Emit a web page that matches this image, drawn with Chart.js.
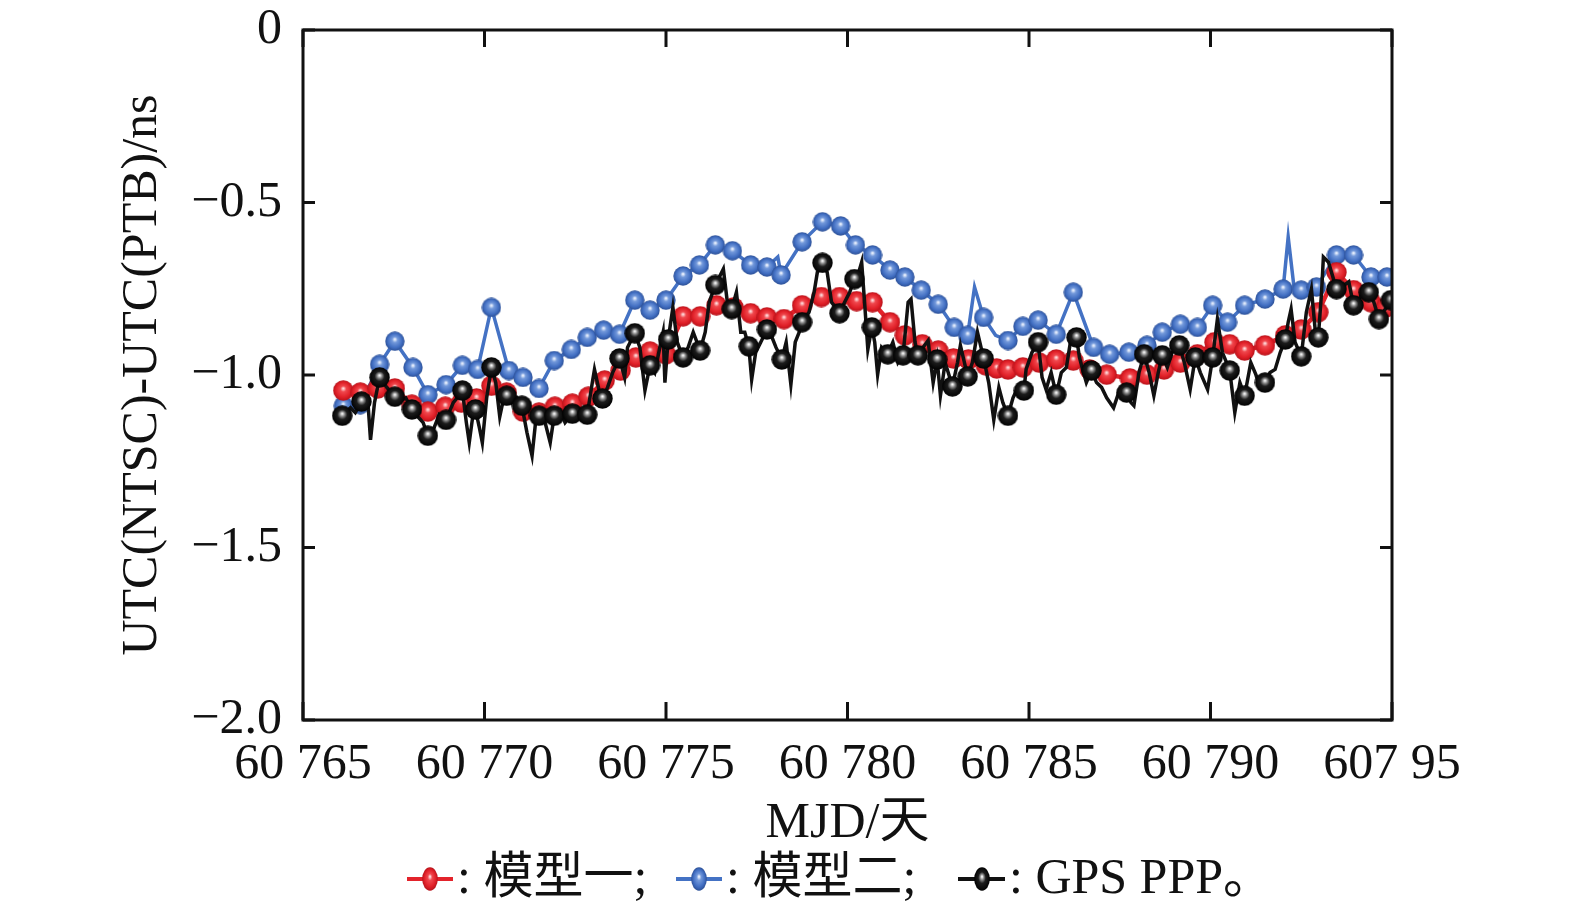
<!DOCTYPE html>
<html>
<head>
<meta charset="utf-8">
<script src="https://cdn.jsdelivr.net/npm/chart.js@4.4.1/dist/chart.umd.min.js"></script>
<style>
  html, body { margin: 0; padding: 0; background: #fff; }
  canvas { display: block; }
</style>
</head>
<body>
<canvas id="chart" width="1575" height="915"></canvas>
<script>
// Tick labels (as printed in the figure)
const xTickLabels = ['60 765', '60 770', '60 775', '60 780', '60 785', '60 790', '607 95'];
const yTickLabels = ['\u22122.0', '\u22121.5', '\u22121.0', '\u22120.5', '0'];

// Model 1 (red)
const redMjd = [
  60766.11, 60766.58, 60767.06, 60767.53, 60768.00, 60768.44, 60768.92, 60769.36, 60769.78, 60770.19,
  60770.61, 60771.06, 60771.50, 60771.94, 60772.42, 60772.86, 60773.31, 60773.75, 60774.17, 60774.56,
  60775.00, 60775.47, 60775.94, 60776.39, 60776.86, 60777.33, 60777.78, 60778.25, 60778.75, 60779.28,
  60779.78, 60780.25, 60780.69, 60781.17, 60781.58, 60782.06, 60782.50, 60782.92, 60783.33, 60783.81,
  60784.11, 60784.42, 60784.83, 60785.28, 60785.75, 60786.22, 60786.67, 60787.14, 60787.78, 60788.25,
  60788.72, 60789.17, 60789.64, 60790.11, 60790.53, 60790.94, 60791.50, 60792.06, 60792.50, 60792.97,
  60793.47, 60793.94, 60794.42, 60794.83
];
const redVal = [
  -1.045, -1.051, -1.039, -1.039, -1.086, -1.106, -1.092, -1.080, -1.068, -1.031,
  -1.051, -1.106, -1.109, -1.092, -1.083, -1.063, -1.016, -0.987, -0.949, -0.932,
  -0.940, -0.830, -0.830, -0.798, -0.804, -0.821, -0.833, -0.838, -0.798, -0.774,
  -0.774, -0.786, -0.789, -0.847, -0.885, -0.911, -0.929, -0.952, -0.955, -0.972,
  -0.981, -0.984, -0.978, -0.964, -0.955, -0.958, -0.984, -0.999, -1.010, -0.999,
  -0.984, -0.964, -0.940, -0.905, -0.911, -0.929, -0.914, -0.885, -0.868, -0.818,
  -0.702, -0.754, -0.789, -0.804
];

// Model 2 (blue); mark = 1 where a marker is drawn
const blueMjd = [
  60766.11, 60766.58, 60767.11, 60767.53, 60768.03, 60768.44, 60768.94, 60769.39, 60769.81, 60770.19,
  60770.67, 60771.06, 60771.50, 60771.92, 60772.39, 60772.83, 60773.28, 60773.72, 60774.14, 60774.56,
  60775.00, 60775.47, 60775.92, 60776.36, 60776.83, 60777.33, 60777.78, 60778.08, 60778.17, 60778.75,
  60779.31, 60779.81, 60780.22, 60780.69, 60781.17, 60781.58, 60782.03, 60782.50, 60782.94, 60783.31,
  60783.50, 60783.75, 60784.08, 60784.42, 60784.83, 60785.25, 60785.75, 60786.22, 60786.78, 60787.22,
  60787.75, 60788.25, 60788.67, 60789.17, 60789.64, 60790.06, 60790.47, 60790.94, 60791.50, 60792.00,
  60792.14, 60792.31, 60792.50, 60792.92, 60793.47, 60793.94, 60794.42, 60794.86
];
const blueVal = [
  -1.089, -1.086, -0.969, -0.902, -0.978, -1.057, -1.028, -0.972, -0.984, -0.804,
  -0.987, -1.007, -1.039, -0.958, -0.926, -0.891, -0.870, -0.882, -0.783, -0.812,
  -0.783, -0.713, -0.681, -0.623, -0.640, -0.681, -0.687, -0.658, -0.710, -0.614,
  -0.556, -0.568, -0.623, -0.652, -0.696, -0.716, -0.754, -0.795, -0.862, -0.885,
  -0.745, -0.833, -0.885, -0.900, -0.859, -0.841, -0.882, -0.760, -0.920, -0.940,
  -0.934, -0.914, -0.876, -0.853, -0.862, -0.798, -0.847, -0.798, -0.780, -0.751,
  -0.600, -0.754, -0.754, -0.745, -0.652, -0.652, -0.716, -0.716
];
const blueMark = [
  1, 1, 1, 1, 1, 1, 1, 1, 1, 1,
  1, 1, 1, 1, 1, 1, 1, 1, 1, 1,
  1, 1, 1, 1, 1, 1, 1, 0, 1, 1,
  1, 1, 1, 1, 1, 1, 1, 1, 1, 1,
  0, 1, 0, 1, 1, 1, 1, 1, 1, 1,
  1, 1, 1, 1, 1, 1, 1, 1, 1, 1,
  0, 0, 1, 1, 1, 1, 1, 1
];

// GPS PPP (black)
const pppMjd = [
  60766.08, 60766.31, 60766.44, 60766.61, 60766.78, 60766.86, 60766.97, 60767.11, 60767.31, 60767.53,
  60767.69, 60767.83, 60768.00, 60768.19, 60768.31, 60768.44, 60768.61, 60768.75, 60768.94, 60769.14,
  60769.25, 60769.39, 60769.50, 60769.58, 60769.69, 60769.75, 60769.86, 60769.94, 60770.06, 60770.19,
  60770.31, 60770.42, 60770.53, 60770.61, 60770.75, 60770.89, 60771.03, 60771.17, 60771.31, 60771.42,
  60771.50, 60771.67, 60771.81, 60771.92, 60772.08, 60772.22, 60772.42, 60772.56, 60772.69, 60772.83,
  60772.97, 60773.03, 60773.17, 60773.25, 60773.39, 60773.53, 60773.72, 60773.86, 60773.94, 60774.14,
  60774.28, 60774.42, 60774.56, 60774.69, 60774.83, 60774.92, 60774.97, 60775.06, 60775.19, 60775.31,
  60775.47, 60775.61, 60775.75, 60775.94, 60776.08, 60776.19, 60776.36, 60776.47, 60776.58, 60776.69,
  60776.81, 60776.94, 60777.06, 60777.17, 60777.28, 60777.36, 60777.47, 60777.61, 60777.78, 60777.92,
  60778.03, 60778.19, 60778.31, 60778.44, 60778.56, 60778.67, 60778.75, 60778.94, 60779.08, 60779.17,
  60779.31, 60779.44, 60779.56, 60779.67, 60779.78, 60779.92, 60780.06, 60780.19, 60780.31, 60780.39,
  60780.47, 60780.56, 60780.67, 60780.75, 60780.83, 60780.94, 60781.11, 60781.25, 60781.39, 60781.53,
  60781.67, 60781.75, 60781.86, 60781.94, 60782.08, 60782.22, 60782.36, 60782.47, 60782.56, 60782.69,
  60782.89, 60783.03, 60783.11, 60783.31, 60783.44, 60783.58, 60783.75, 60783.89, 60784.03, 60784.17,
  60784.28, 60784.42, 60784.56, 60784.69, 60784.86, 60784.92, 60785.08, 60785.25, 60785.36, 60785.47,
  60785.61, 60785.75, 60785.89, 60786.03, 60786.14, 60786.31, 60786.39, 60786.50, 60786.58, 60786.72,
  60786.86, 60787.00, 60787.14, 60787.33, 60787.47, 60787.58, 60787.69, 60787.81, 60787.89, 60788.03,
  60788.17, 60788.31, 60788.44, 60788.56, 60788.67, 60788.81, 60788.94, 60789.14, 60789.28, 60789.44,
  60789.58, 60789.72, 60789.92, 60790.06, 60790.19, 60790.33, 60790.53, 60790.67, 60790.81, 60790.94,
  60791.11, 60791.25, 60791.36, 60791.50, 60791.64, 60791.78, 60791.92, 60792.06, 60792.14, 60792.22,
  60792.33, 60792.50, 60792.64, 60792.78, 60792.89, 60792.97, 60793.06, 60793.11, 60793.25, 60793.47,
  60793.61, 60793.81, 60793.94, 60794.08, 60794.22, 60794.36, 60794.50, 60794.64, 60794.97
];
const pppVal = [
  -1.118, -1.095, -1.109, -1.077, -1.066, -1.188, -1.080, -1.007, -1.036, -1.063,
  -1.074, -1.066, -1.100, -1.124, -1.138, -1.176, -1.153, -1.115, -1.130, -1.080,
  -1.066, -1.045, -1.138, -1.196, -1.109, -1.100, -1.153, -1.196, -1.066, -0.978,
  -1.022, -1.121, -1.066, -1.060, -1.080, -1.066, -1.089, -1.167, -1.234, -1.124,
  -1.118, -1.138, -1.196, -1.118, -1.103, -1.138, -1.112, -1.095, -1.124, -1.115,
  -1.022, -0.984, -1.051, -1.068, -1.036, -0.993, -0.952, -1.007, -0.920, -0.879,
  -0.920, -1.045, -0.972, -0.993, -0.920, -0.876, -1.022, -0.897, -0.804, -0.905,
  -0.949, -0.920, -0.876, -0.929, -0.876, -0.789, -0.739, -0.716, -0.693, -0.789,
  -0.809, -0.760, -0.876, -0.876, -0.917, -1.013, -0.935, -0.905, -0.868, -0.891,
  -0.920, -0.955, -0.905, -1.028, -0.905, -0.876, -0.847, -0.818, -0.760, -0.702,
  -0.675, -0.702, -0.789, -0.804, -0.821, -0.789, -0.760, -0.722, -0.702, -0.673,
  -0.789, -0.926, -0.862, -0.905, -0.999, -0.920, -0.940, -0.905, -0.964, -0.943,
  -0.789, -0.780, -0.905, -0.943, -0.920, -0.900, -1.022, -0.955, -1.060, -0.964,
  -1.033, -0.964, -0.914, -1.004, -0.964, -0.876, -0.952, -1.022, -1.130, -1.036,
  -1.080, -1.118, -1.066, -1.036, -1.045, -0.984, -0.935, -0.905, -1.007, -1.042,
  -0.993, -1.057, -0.993, -0.978, -0.905, -0.891, -0.949, -0.993, -1.022, -0.987,
  -1.022, -1.036, -1.066, -1.095, -1.051, -1.066, -1.051, -1.080, -1.089, -0.993,
  -0.940, -0.993, -1.060, -0.993, -0.943, -0.978, -0.935, -0.914, -0.964, -1.042,
  -0.949, -0.993, -1.042, -0.949, -0.838, -0.935, -0.987, -1.109, -1.022, -1.060,
  -0.964, -0.999, -1.036, -1.022, -0.993, -0.984, -0.935, -0.897, -0.847, -0.809,
  -0.905, -0.946, -0.818, -0.751, -0.876, -0.891, -0.760, -0.658, -0.673, -0.751,
  -0.745, -0.730, -0.798, -0.789, -0.745, -0.760, -0.789, -0.838, -0.783
];
const pppMark = [
  1, 0, 0, 1, 0, 0, 0, 1, 0, 1,
  0, 0, 1, 0, 0, 1, 0, 0, 1, 0,
  0, 1, 0, 0, 0, 1, 0, 0, 0, 1,
  0, 0, 0, 1, 0, 0, 1, 0, 0, 0,
  1, 0, 0, 1, 0, 0, 1, 0, 0, 1,
  0, 0, 0, 1, 0, 0, 1, 0, 0, 1,
  0, 0, 1, 0, 0, 0, 0, 1, 0, 0,
  1, 0, 0, 1, 0, 0, 1, 0, 0, 0,
  1, 0, 0, 0, 1, 0, 0, 0, 1, 0,
  0, 1, 0, 0, 0, 0, 1, 0, 0, 0,
  1, 0, 0, 0, 1, 0, 0, 1, 0, 0,
  0, 0, 1, 0, 0, 0, 1, 0, 0, 1,
  0, 0, 0, 1, 0, 0, 0, 1, 0, 0,
  1, 0, 0, 1, 0, 0, 1, 0, 0, 0,
  0, 1, 0, 0, 1, 0, 0, 1, 0, 0,
  0, 1, 0, 0, 0, 1, 0, 0, 0, 1,
  0, 0, 0, 0, 0, 0, 1, 0, 0, 0,
  1, 0, 0, 0, 1, 0, 0, 1, 0, 0,
  1, 0, 0, 1, 0, 0, 1, 0, 0, 1,
  0, 0, 0, 1, 0, 0, 0, 1, 0, 0,
  0, 1, 0, 0, 0, 1, 0, 0, 0, 1,
  0, 0, 1, 0, 0, 1, 0, 1, 1
];

const FONT = '"Liberation Serif", "Times New Roman", "Noto Sans CJK SC", serif';
const RED = '#e3232b';
const BLUE = '#4472c4';
const BLACK = '#111111';

/**
 * Build a small shaded sphere used as the point style
 */
function makeBall(w, h, stops) {
  const c = document.createElement('canvas');
  c.width = w;
  c.height = h;
  const g = c.getContext('2d');
  const r = Math.max(w, h) / 2;
  g.translate(w / 2, h / 2);
  g.scale(w / (2 * r), h / (2 * r));
  const grad = g.createRadialGradient(0, -r * 0.2, r * 0.04, 0, 0, r);
  stops.forEach(([o, col]) => grad.addColorStop(o, col));
  g.fillStyle = grad;
  g.beginPath();
  g.arc(0, 0, r - 0.3, 0, Math.PI * 2);
  g.fill();
  return c;
}

const redStops = [[0, '#ffe0e0'], [0.25, '#f0474d'], [0.7, '#e01f27'], [1, '#b3121a']];
const blueStops = [[0, '#eef4ff'], [0.25, '#7399db'], [0.7, '#416ec2'], [1, '#2b4e93']];
const blackStops = [[0, '#f8f8f8'], [0.2, '#8a8a8a'], [0.45, '#1c1c1c'], [1, '#000000']];

const redBall = makeBall(21, 21, redStops);
const blueBall = makeBall(20, 20, blueStops);
const blackBall = makeBall(21, 21, blackStops);

const toPoints = (xs, ys) => xs.map((x, i) => ({ x, y: ys[i] }));

// Box around the plot with inward ticks on all sides
const frameAndTicks = {
  id: 'frameAndTicks',
  afterDatasetsDraw(chart) {
    const { ctx, chartArea: a, scales: { x, y } } = chart;
    ctx.save();
    ctx.strokeStyle = '#111';
    ctx.lineWidth = 3;
    ctx.lineCap = 'square';
    ctx.strokeRect(a.left, a.top, a.right - a.left, a.bottom - a.top);
    ctx.lineCap = 'butt';
    ctx.beginPath();
    x.ticks.forEach(t => {
      const px = x.getPixelForValue(t.value);
      ctx.moveTo(px, a.bottom);
      ctx.lineTo(px, a.bottom - 18);
      ctx.moveTo(px, a.top);
      ctx.lineTo(px, a.top + 17);
    });
    y.ticks.forEach(t => {
      const py = y.getPixelForValue(t.value);
      ctx.moveTo(a.left, py);
      ctx.lineTo(a.left + 12, py);
      ctx.moveTo(a.right, py);
      ctx.lineTo(a.right - 12, py);
    });
    ctx.stroke();
    ctx.restore();
  }
};

// Legend row under the axis title
const legendRow = {
  id: 'legendRow',
  afterDraw(chart) {
    const { ctx } = chart;
    const cy = 879;
    const items = [
      { color: RED, stops: redStops, x1: 407, x2: 453, bx: 430, tx: 457, text: ': 模型一;' },
      { color: BLUE, stops: blueStops, x1: 676, x2: 722, bx: 699, tx: 726, text: ': 模型二;' },
      { color: BLACK, stops: blackStops, x1: 958, x2: 1005, bx: 982, tx: 1009, text: ': GPS PPP。' }
    ];
    ctx.save();
    items.forEach(it => {
      ctx.strokeStyle = it.color;
      ctx.lineWidth = 4;
      ctx.beginPath();
      ctx.moveTo(it.x1, cy);
      ctx.lineTo(it.x2, cy);
      ctx.stroke();
      const ball = makeBall(16, 24, it.stops);
      ctx.drawImage(ball, it.bx - 8, cy - 12);
      ctx.fillStyle = '#111';
      ctx.font = '50px ' + FONT;
      ctx.textBaseline = 'middle';
      ctx.textAlign = 'left';
      ctx.fillText(it.text, it.tx, cy + 1);
    });
    ctx.restore();
  }
};

const axisFont = { family: FONT, size: 50, lineHeight: 1 };

new Chart(document.getElementById('chart'), {
  type: 'line',
  data: {
    datasets: [
      {
        label: 'GPS PPP',
        data: toPoints(pppMjd, pppVal),
        borderColor: BLACK,
        borderWidth: 3.5,
        tension: 0,
        pointStyle: blackBall,
        pointRadius: ctx => (pppMark[ctx.dataIndex] ? 10 : 0),
        order: 0
      },
      {
        label: '模型一',
        data: toPoints(redMjd, redVal),
        borderColor: RED,
        borderWidth: 4.5,
        tension: 0,
        pointStyle: redBall,
        pointRadius: 10,
        order: 1
      },
      {
        label: '模型二',
        data: toPoints(blueMjd, blueVal),
        borderColor: BLUE,
        borderWidth: 3.5,
        tension: 0,
        pointStyle: blueBall,
        pointRadius: ctx => (blueMark[ctx.dataIndex] ? 10 : 0),
        order: 2
      }
    ]
  },
  options: {
    responsive: false,
    animation: false,
    events: [],
    layout: { padding: { left: 0, right: 183, top: 30, bottom: 66 } },
    plugins: {
      legend: { display: false },
      tooltip: { enabled: false }
    },
    scales: {
      x: {
        type: 'linear',
        min: 60765,
        max: 60795,
        grid: { display: false, drawTicks: false },
        border: { display: false },
        ticks: {
          stepSize: 5,
          padding: 20,
          maxRotation: 0,
          autoSkip: false,
          color: '#111',
          font: axisFont,
          callback: (v, i) => xTickLabels[i] ?? ''
        },
        title: {
          display: true,
          text: 'MJD/天',
          color: '#111',
          font: axisFont,
          padding: { top: 0, bottom: 0 }
        },
        afterFit: s => {
          s.height = 129;
          s.paddingLeft = 0;
          s.paddingRight = 0;
        }
      },
      y: {
        min: -2,
        max: 0,
        grid: { display: false, drawTicks: false },
        border: { display: false },
        ticks: {
          stepSize: 0.5,
          padding: 21,
          color: '#111',
          font: axisFont,
          callback: (v, i) => yTickLabels[i] ?? ''
        },
        title: {
          display: true,
          text: 'UTC(NTSC)-UTC(PTB)/ns',
          color: '#111',
          font: axisFont,
          padding: { top: 118, bottom: 0 }
        },
        afterFit: s => {
          s.width = 303;
          s.paddingTop = 0;
          s.paddingBottom = 0;
        }
      }
    }
  },
  plugins: [frameAndTicks, legendRow]
});
</script>
</body>
</html>
